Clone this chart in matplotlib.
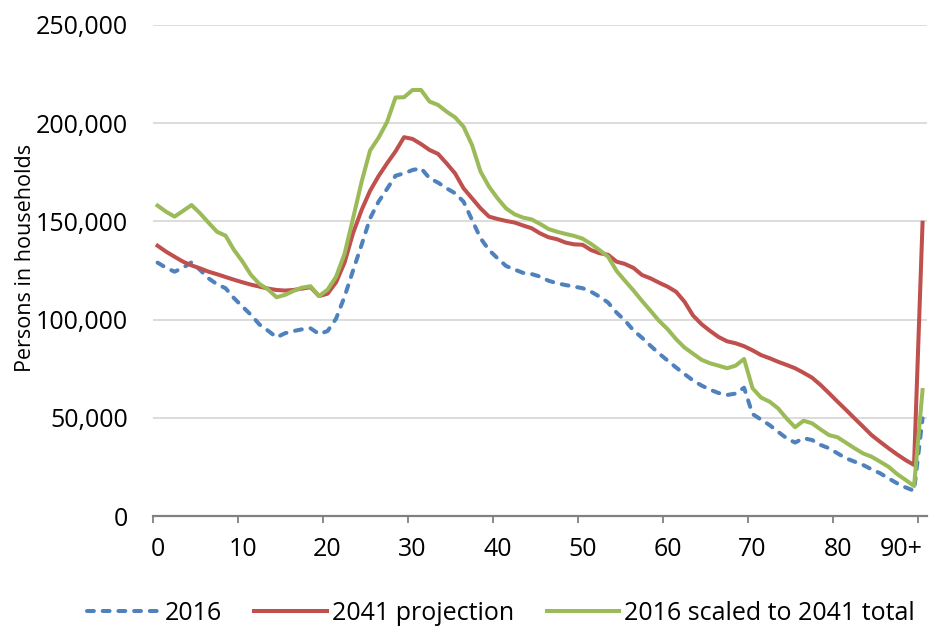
import matplotlib.pyplot as plt
from matplotlib.ticker import FuncFormatter, FixedLocator

# ages 0..90 (last category is 90+)
AGES = list(range(91))

# persons in households, 2016
HH_2016 = [
    129.0, 126.4, 124.4, 126.4, 129.2, 125.3, 121.0, 118.0, 116.0, 110.9,
    106.6, 102.4, 97.5, 94.4, 91.0, 93.1, 94.2, 95.1, 95.6, 92.7,
    94.2, 100.5, 111.7, 125.0, 138.0, 151.5, 160.0, 166.5, 173.2, 174.4,
    176.1, 177.0, 171.9, 169.7, 166.8, 164.3, 160.0, 150.7, 141.4, 135.4,
    131.2, 127.3, 125.5, 123.8, 123.2, 121.9, 119.8, 118.5, 117.6, 116.8,
    116.0, 114.2, 111.7, 108.7, 103.6, 99.5, 94.5, 90.8, 86.7, 82.8,
    79.2, 75.7, 72.3, 69.1, 66.5, 64.4, 62.7, 61.7, 62.4, 65.4,
    52.0, 49.2, 46.4, 43.0, 39.7, 37.5, 39.7, 38.8, 36.3, 34.6,
    32.0, 29.5, 27.8, 26.1, 23.9, 21.9, 19.3, 16.8, 14.7, 13.0,
    49.8,
]

# 2041 projection
HH_2041 = [
    137.6, 134.6, 132.0, 129.5, 127.6, 126.1, 124.4, 123.1, 121.7, 120.3,
    119.0, 117.8, 116.8, 115.8, 115.1, 114.8, 115.1, 115.8, 116.5, 112.0,
    113.2, 119.0, 129.0, 144.0, 155.7, 165.5, 173.0, 179.5, 185.6, 192.8,
    191.9, 189.3, 186.3, 184.3, 179.5, 174.4, 166.8, 161.7, 156.6, 152.4,
    151.2, 150.2, 149.4, 147.9, 146.5, 143.9, 141.9, 140.9, 139.2, 138.3,
    138.1, 135.4, 133.8, 133.0, 129.5, 128.3, 126.3, 122.7, 121.0, 118.8,
    116.8, 114.2, 109.1, 102.1, 97.7, 94.3, 91.2, 89.0, 88.0, 86.5,
    84.4, 82.0, 80.4, 78.6, 77.0, 75.3, 73.0, 70.5, 66.8, 62.6,
    58.3, 54.1, 49.8, 45.6, 41.3, 37.9, 34.6, 31.5, 28.6, 26.1,
    149.3,
]

# 2016 age profile scaled to the 2041 total
HH_SCALED = [
    158.0, 154.9, 152.4, 155.3, 158.3, 154.1, 149.3, 144.7, 142.7, 135.4,
    129.5, 122.7, 118.1, 115.4, 111.4, 112.6, 114.6, 116.3, 117.0, 112.0,
    115.2, 121.8, 133.5, 151.5, 170.0, 186.0, 192.5, 200.5, 213.0, 213.1,
    216.8, 216.8, 210.9, 209.2, 205.8, 202.9, 198.1, 188.8, 175.3, 167.6,
    161.7, 156.6, 153.6, 151.9, 151.0, 148.7, 146.1, 144.7, 143.6, 142.6,
    141.2, 138.5, 135.4, 132.0, 124.8, 119.7, 114.8, 109.5, 104.5, 99.4,
    95.2, 90.1, 85.8, 82.7, 79.6, 77.8, 76.6, 75.3, 76.6, 80.0,
    65.1, 60.4, 58.3, 54.9, 49.8, 45.3, 48.6, 47.3, 44.2, 41.3,
    40.2, 37.4, 34.6, 32.0, 30.3, 27.8, 25.2, 21.5, 18.5, 15.4,
    64.2,
]

X_LABELS = ['0', '10', '20', '30', '40', '50', '60', '70', '80', '90+']

plt.rcParams['font.family'] = ['Open Sans', 'DejaVu Sans']

W, H = 946, 630
fig = plt.figure(figsize=(W / 100, H / 100), dpi=100)
ax = fig.add_axes([153.3 / W, 113.7 / H, (926.8 - 153.3) / W, (516.3 - 24.7) / H])

lw = 2.9
ax.plot(AGES, [v * 1000 for v in HH_2016], color='#4F81BD', lw=lw,
        linestyle=(0, (1.7, 2.2)), dash_capstyle='round', label='2016', zorder=3)
ax.plot(AGES, [v * 1000 for v in HH_2041], color='#C0504D', lw=lw,
        solid_joinstyle='round', label='2041 projection', zorder=3)
ax.plot(AGES, [v * 1000 for v in HH_SCALED], color='#9BBB59', lw=lw,
        solid_joinstyle='round', label='2016 scaled to 2041 total', zorder=3)

ax.set_xlim(-0.5, 90.5)
ax.set_ylim(0, 250000)

# y axis
ax.set_yticks(range(0, 250001, 50000))
ax.yaxis.set_major_formatter(FuncFormatter(lambda v, p: f'{int(v):,}'))
ax.tick_params(axis='y', length=0, pad=18, labelsize=18, labelcolor='#000000')
ax.grid(axis='y', color='#D9D9D9', lw=1.3, zorder=0)
ax.set_ylabel('Persons in households', fontsize=15.5)
ax.yaxis.set_label_coords(-0.152, 0.525)

# x axis: tick marks between categories, labels centred on categories
ax.xaxis.set_major_locator(FixedLocator([i - 0.5 for i in range(0, 91, 10)]))
ax.xaxis.set_major_formatter(FuncFormatter(lambda v, p: ''))
ax.xaxis.set_minor_locator(FixedLocator(list(range(0, 91, 10))))
ax.set_xticklabels(X_LABELS, minor=True)
ax.tick_params(axis='x', which='major', length=5, width=1.3, color='#808080')
ax.tick_params(axis='x', which='minor', length=0, pad=15, labelsize=18)
ax.get_xticklabels(minor=True)[-1].set_horizontalalignment('right')

for side in ['top', 'right', 'left']:
    ax.spines[side].set_visible(False)
ax.spines['bottom'].set_color('#808080')
ax.spines['bottom'].set_linewidth(1.6)

fig.legend(loc='center', bbox_to_anchor=(501 / W, 1 - 613 / H), ncol=3,
           frameon=False, fontsize=18, handlelength=2.9, handletextpad=0.2,
           columnspacing=1.3)

fig.savefig('out.png', dpi=100)
